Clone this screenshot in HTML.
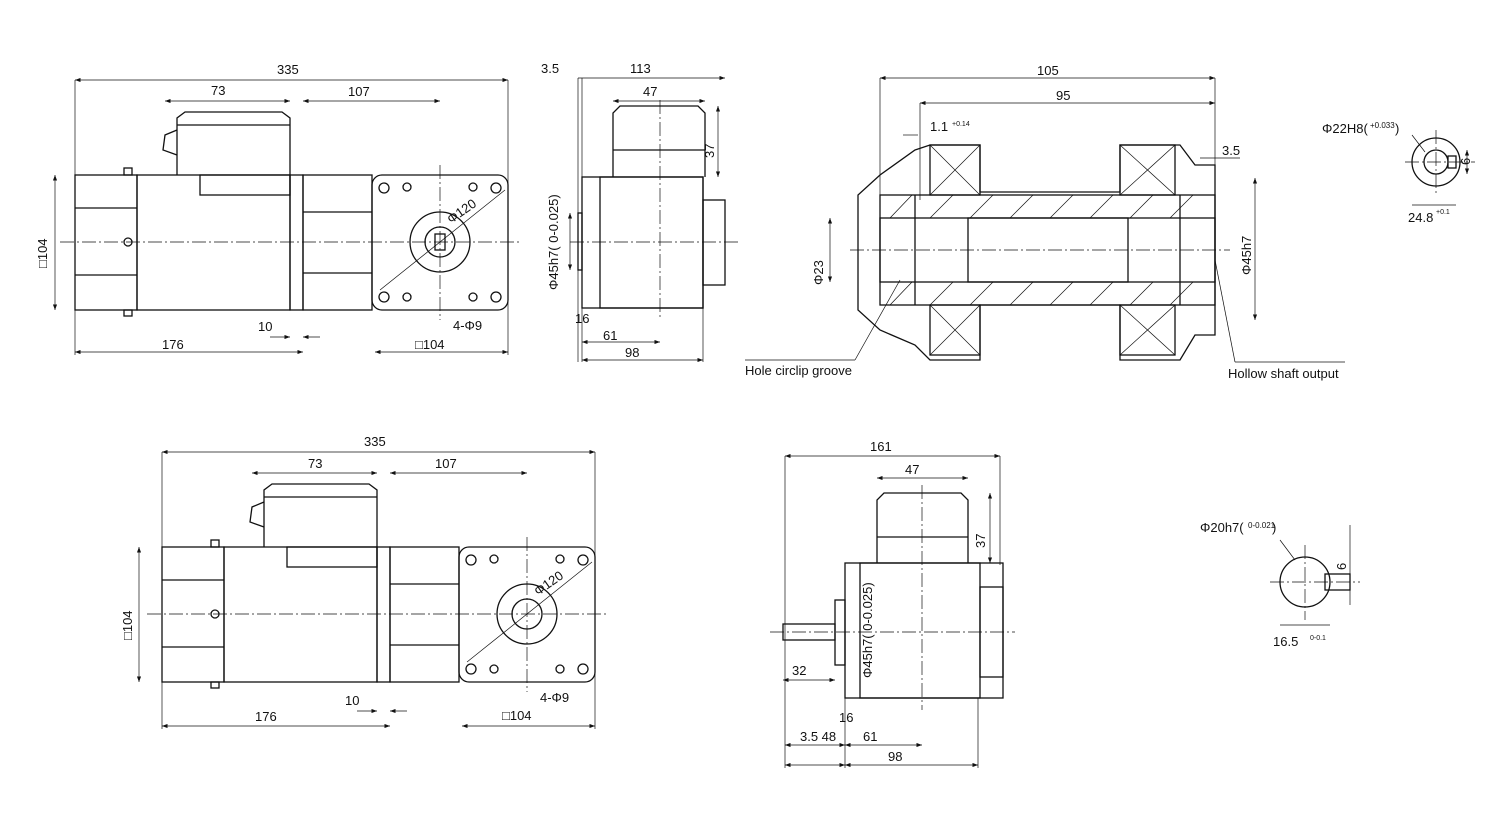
<!DOCTYPE html>
<html><head><meta charset="utf-8"><style>
html,body{margin:0;padding:0;background:#fff}
svg{display:block}
text{font-family:"Liberation Sans",sans-serif;font-size:13px;fill:#111}
.l{stroke:#111;stroke-width:1.3;fill:none}
.t{stroke:#111;stroke-width:.7;fill:none}
.c{stroke:#111;stroke-width:.7;fill:none;stroke-dasharray:14 3 2 3}
</style></head><body>
<svg width="1500" height="815" viewBox="0 0 1500 815" xmlns="http://www.w3.org/2000/svg">
<defs><marker id="a" markerWidth="8" markerHeight="6" refX="8" refY="3" orient="auto-start-reverse"><path d="M0,0L8,3L0,6z" fill="#111"/></marker></defs>

<!-- ===== TOP LEFT VIEW ===== -->
<g id="motor1">
<rect class="l" x="75" y="175" width="62" height="135"/>
<line class="l" x1="75" y1="208" x2="137" y2="208"/><line class="l" x1="75" y1="275" x2="137" y2="275"/>
<rect class="l" x="137" y="175" width="153" height="135"/>
<rect class="l" x="200" y="175" width="90" height="20"/>
<path class="l" d="M177,175 L177,118 L185,112 L282,112 L290,118 L290,175"/>
<line class="l" x1="177" y1="125" x2="290" y2="125"/>
<path class="l" d="M177,130 L165,135 L163,150 L177,155"/>
<rect class="l" x="290" y="175" width="13" height="135"/>
<rect class="l" x="303" y="175" width="69" height="135"/>
<line class="l" x1="303" y1="212" x2="372" y2="212"/><line class="l" x1="303" y1="273" x2="372" y2="273"/>
<rect class="l" x="372" y="175" width="136" height="135" rx="10"/>
<circle class="l" cx="440" cy="242" r="30"/><circle class="l" cx="440" cy="242" r="15"/>
<rect class="l" x="435" y="234" width="10" height="16"/>
<circle class="l" cx="384" cy="188" r="5"/><circle class="l" cx="496" cy="188" r="5"/><circle class="l" cx="384" cy="297" r="5"/><circle class="l" cx="496" cy="297" r="5"/>
<circle class="l" cx="407" cy="187" r="4"/><circle class="l" cx="473" cy="187" r="4"/><circle class="l" cx="407" cy="297" r="4"/><circle class="l" cx="473" cy="297" r="4"/>
<circle class="l" cx="128" cy="242" r="4"/>
<rect class="l" x="124" y="168" width="8" height="7"/><rect class="l" x="124" y="310" width="8" height="6"/>
<line class="c" x1="60" y1="242" x2="520" y2="242"/>
<line class="c" x1="440" y1="165" x2="440" y2="320"/>
<line class="t" x1="380" y1="290" x2="505" y2="190"/>
</g>
<line class="t" x1="75" y1="80" x2="508" y2="80" marker-start="url(#a)" marker-end="url(#a)"/><text x="277" y="74">335</text>
<line class="t" x1="165" y1="101" x2="290" y2="101" marker-start="url(#a)" marker-end="url(#a)"/><text x="211" y="95">73</text>
<line class="t" x1="303" y1="101" x2="440" y2="101" marker-start="url(#a)" marker-end="url(#a)"/><text x="348" y="96">107</text>
<line class="t" x1="75" y1="352" x2="303" y2="352" marker-start="url(#a)" marker-end="url(#a)"/><text x="162" y="349">176</text>
<line class="t" x1="270" y1="337" x2="290" y2="337" marker-end="url(#a)"/><line class="t" x1="320" y1="337" x2="303" y2="337" marker-end="url(#a)"/><text x="258" y="331">10</text>
<line class="t" x1="375" y1="352" x2="508" y2="352" marker-start="url(#a)" marker-end="url(#a)"/><text x="415" y="349">□104</text>
<line class="t" x1="55" y1="175" x2="55" y2="310" marker-start="url(#a)" marker-end="url(#a)"/><text x="47" y="268" transform="rotate(-90 47 268)">□104</text>
<text x="453" y="330">4-Φ9</text><text x="451" y="224" transform="rotate(-35 451 224)">Φ120</text>
<line class="t" x1="75" y1="80" x2="75" y2="355"/><line class="t" x1="508" y1="80" x2="508" y2="355"/>

<!-- ===== TOP SECOND VIEW ===== -->
<rect class="l" x="582" y="177" width="121" height="131"/>
<rect class="l" x="600" y="177" width="103" height="131"/>
<path class="l" d="M613,177 L613,113 L620,106 L698,106 L705,113 L705,177"/>
<line class="l" x1="613" y1="150" x2="705" y2="150"/>
<rect class="l" x="703" y="200" width="22" height="85"/>
<rect class="l" x="578" y="213" width="4" height="57"/>
<line class="c" x1="570" y1="242" x2="740" y2="242"/><line class="c" x1="660" y1="100" x2="660" y2="320"/>
<line class="t" x1="578" y1="78" x2="725" y2="78" marker-end="url(#a)"/><text x="541" y="73">3.5</text><text x="630" y="73">113</text>
<line class="t" x1="613" y1="101" x2="705" y2="101" marker-start="url(#a)" marker-end="url(#a)"/><text x="643" y="96">47</text>
<line class="t" x1="718" y1="106" x2="718" y2="177" marker-start="url(#a)" marker-end="url(#a)"/><text x="714" y="158" transform="rotate(-90 714 158)">37</text>
<line class="t" x1="570" y1="213" x2="570" y2="270" marker-start="url(#a)" marker-end="url(#a)"/><text x="558" y="290" transform="rotate(-90 558 290)">Φ45h7( 0-0.025)</text>
<line class="t" x1="582" y1="342" x2="660" y2="342" marker-start="url(#a)" marker-end="url(#a)"/><text x="603" y="340">61</text><text x="575" y="323">16</text>
<line class="t" x1="582" y1="360" x2="703" y2="360" marker-start="url(#a)" marker-end="url(#a)"/><text x="625" y="357">98</text>
<line class="t" x1="578" y1="78" x2="578" y2="362"/><line class="t" x1="582" y1="78" x2="582" y2="362"/><line class="t" x1="703" y1="290" x2="703" y2="362"/>

<!-- ===== SECTION VIEW ===== -->
<path class="l" d="M915,150 L930,145 L980,145 L980,192 L1120,192 L1120,145 L1180,145 L1195,165 L1215,165 L1215,335 L1195,335 L1180,360 L1120,360 L1120,305 L980,305 L980,360 L930,360 L915,345 L880,330 L858,310 L858,195 L880,175 Z"/>
<rect class="l" x="930" y="145" width="50" height="50"/><path class="t" d="M930,145L980,195M980,145L930,195"/>
<rect class="l" x="930" y="305" width="50" height="50"/><path class="t" d="M930,305L980,355M980,305L930,355"/>
<rect class="l" x="1120" y="145" width="55" height="50"/><path class="t" d="M1120,145L1175,195M1175,145L1120,195"/>
<rect class="l" x="1120" y="305" width="55" height="50"/><path class="t" d="M1120,305L1175,355M1175,305L1120,355"/>
<rect class="l" x="880" y="195" width="335" height="110"/>
<rect class="l" x="880" y="218" width="335" height="64"/>
<rect class="l" x="968" y="218" width="160" height="64"/>
<line class="l" x1="915" y1="195" x2="915" y2="305"/><line class="l" x1="1180" y1="195" x2="1180" y2="305"/>
<g class="t"><path d="M890,218L912,195M930,218L953,195M970,218L993,195M1010,218L1033,195M1050,218L1073,195M1090,218L1113,195M1130,218L1153,195M1170,218L1193,195"/>
<path d="M890,305L912,282M930,305L953,282M970,305L993,282M1010,305L1033,282M1050,305L1073,282M1090,305L1113,282M1130,305L1153,282M1170,305L1193,282"/></g>
<line class="c" x1="850" y1="250" x2="1230" y2="250"/>
<line class="t" x1="880" y1="78" x2="1215" y2="78" marker-start="url(#a)" marker-end="url(#a)"/><text x="1037" y="75">105</text>
<line class="t" x1="920" y1="103" x2="1215" y2="103" marker-start="url(#a)" marker-end="url(#a)"/><text x="1056" y="100">95</text>
<line class="t" x1="903" y1="135" x2="918" y2="135"/><text x="930" y="131">1.1</text><text x="952" y="126" style="font-size:7px">+0.14</text>
<line class="t" x1="1200" y1="158" x2="1240" y2="158"/><text x="1222" y="155">3.5</text>
<line class="t" x1="1255" y1="178" x2="1255" y2="320" marker-start="url(#a)" marker-end="url(#a)"/><text x="1251" y="275" transform="rotate(-90 1251 275)">Φ45h7</text>
<line class="t" x1="830" y1="218" x2="830" y2="282" marker-start="url(#a)" marker-end="url(#a)"/><text x="823" y="285" transform="rotate(-90 823 285)">Φ23</text>
<line class="t" x1="880" y1="78" x2="880" y2="200"/><line class="t" x1="1215" y1="78" x2="1215" y2="170"/><line class="t" x1="920" y1="103" x2="920" y2="200"/>
<line class="t" x1="855" y1="360" x2="900" y2="280"/><line class="t" x1="745" y1="360" x2="855" y2="360"/><text x="745" y="375">Hole circlip groove</text>
<line class="t" x1="1235" y1="362" x2="1215" y2="260"/><line class="t" x1="1235" y1="362" x2="1345" y2="362"/><text x="1228" y="378">Hollow shaft output</text>
<circle class="l" cx="1436" cy="162" r="24"/><circle class="l" cx="1436" cy="162" r="12"/><rect class="l" x="1448" y="156" width="8" height="12"/>
<line class="c" x1="1405" y1="162" x2="1475" y2="162"/><line class="c" x1="1436" y1="130" x2="1436" y2="195"/>
<text x="1322" y="133">Φ22H8(</text><text x="1370" y="128" style="font-size:8px">+0.033</text><text x="1395" y="133">)</text>
<line class="t" x1="1412" y1="135" x2="1425" y2="152"/>
<line class="t" x1="1467" y1="150" x2="1467" y2="174" marker-start="url(#a)" marker-end="url(#a)"/><text x="1470" y="165" transform="rotate(-90 1470 165)">6</text>
<line class="t" x1="1412" y1="205" x2="1456" y2="205"/><text x="1408" y="222">24.8</text><text x="1436" y="214" style="font-size:7px">+0.1</text>

<!-- ===== BOTTOM LEFT VIEW ===== -->
<g transform="translate(87,372)">
<rect class="l" x="75" y="175" width="62" height="135"/>
<line class="l" x1="75" y1="208" x2="137" y2="208"/><line class="l" x1="75" y1="275" x2="137" y2="275"/>
<rect class="l" x="137" y="175" width="153" height="135"/>
<rect class="l" x="200" y="175" width="90" height="20"/>
<path class="l" d="M177,175 L177,118 L185,112 L282,112 L290,118 L290,175"/>
<line class="l" x1="177" y1="125" x2="290" y2="125"/>
<path class="l" d="M177,130 L165,135 L163,150 L177,155"/>
<rect class="l" x="290" y="175" width="13" height="135"/>
<rect class="l" x="303" y="175" width="69" height="135"/>
<line class="l" x1="303" y1="212" x2="372" y2="212"/><line class="l" x1="303" y1="273" x2="372" y2="273"/>
<rect class="l" x="372" y="175" width="136" height="135" rx="10"/>
<circle class="l" cx="440" cy="242" r="30"/><circle class="l" cx="440" cy="242" r="15"/>
<circle class="l" cx="384" cy="188" r="5"/><circle class="l" cx="496" cy="188" r="5"/><circle class="l" cx="384" cy="297" r="5"/><circle class="l" cx="496" cy="297" r="5"/>
<circle class="l" cx="407" cy="187" r="4"/><circle class="l" cx="473" cy="187" r="4"/><circle class="l" cx="407" cy="297" r="4"/><circle class="l" cx="473" cy="297" r="4"/>
<circle class="l" cx="128" cy="242" r="4"/>
<rect class="l" x="124" y="168" width="8" height="7"/><rect class="l" x="124" y="310" width="8" height="6"/>
<line class="c" x1="60" y1="242" x2="520" y2="242"/><line class="c" x1="440" y1="165" x2="440" y2="320"/>
<line class="t" x1="380" y1="290" x2="505" y2="190"/>
<line class="t" x1="75" y1="80" x2="508" y2="80" marker-start="url(#a)" marker-end="url(#a)"/><text x="277" y="74">335</text>
<line class="t" x1="165" y1="101" x2="290" y2="101" marker-start="url(#a)" marker-end="url(#a)"/><text x="221" y="96">73</text>
<line class="t" x1="303" y1="101" x2="440" y2="101" marker-start="url(#a)" marker-end="url(#a)"/><text x="348" y="96">107</text>
<line class="t" x1="75" y1="354" x2="303" y2="354" marker-start="url(#a)" marker-end="url(#a)"/><text x="168" y="349">176</text>
<line class="t" x1="270" y1="339" x2="290" y2="339" marker-end="url(#a)"/><line class="t" x1="320" y1="339" x2="303" y2="339" marker-end="url(#a)"/><text x="258" y="333">10</text>
<line class="t" x1="375" y1="354" x2="508" y2="354" marker-start="url(#a)" marker-end="url(#a)"/><text x="415" y="348">□104</text>
<line class="t" x1="52" y1="175" x2="52" y2="310" marker-start="url(#a)" marker-end="url(#a)"/><text x="45" y="268" transform="rotate(-90 45 268)">□104</text>
<text x="453" y="330">4-Φ9</text><text x="451" y="224" transform="rotate(-35 451 224)">Φ120</text>
<line class="t" x1="75" y1="80" x2="75" y2="357"/><line class="t" x1="508" y1="80" x2="508" y2="357"/>
</g>

<!-- ===== BOTTOM MIDDLE VIEW ===== -->
<rect class="l" x="845" y="563" width="158" height="135"/>
<rect class="l" x="860" y="563" width="120" height="135"/>
<path class="l" d="M877,563 L877,500 L884,493 L961,493 L968,500 L968,563"/>
<line class="l" x1="877" y1="537" x2="968" y2="537"/>
<rect class="l" x="980" y="587" width="23" height="90"/>
<rect class="l" x="835" y="600" width="10" height="65"/>
<rect class="l" x="783" y="624" width="52" height="16"/>
<line class="c" x1="770" y1="632" x2="1015" y2="632"/><line class="c" x1="922" y1="485" x2="922" y2="710"/>
<line class="t" x1="785" y1="456" x2="1000" y2="456" marker-start="url(#a)" marker-end="url(#a)"/><text x="870" y="451">161</text>
<line class="t" x1="877" y1="478" x2="968" y2="478" marker-start="url(#a)" marker-end="url(#a)"/><text x="905" y="474">47</text>
<line class="t" x1="990" y1="493" x2="990" y2="563" marker-start="url(#a)" marker-end="url(#a)"/><text x="985" y="548" transform="rotate(-90 985 548)">37</text>
<line class="t" x1="783" y1="680" x2="835" y2="680" marker-start="url(#a)" marker-end="url(#a)"/><text x="792" y="675">32</text>
<text x="839" y="722">16</text>
<line class="t" x1="845" y1="745" x2="922" y2="745" marker-start="url(#a)" marker-end="url(#a)"/><text x="863" y="741">61</text>
<line class="t" x1="785" y1="745" x2="845" y2="745" marker-start="url(#a)" marker-end="url(#a)"/><text x="800" y="741">3.5 48</text>
<line class="t" x1="785" y1="765" x2="845" y2="765" marker-start="url(#a)" marker-end="url(#a)"/>
<line class="t" x1="845" y1="765" x2="978" y2="765" marker-start="url(#a)" marker-end="url(#a)"/><text x="888" y="761">98</text>
<text x="872" y="678" transform="rotate(-90 872 678)">Φ45h7( 0-0.025)</text>
<line class="t" x1="785" y1="456" x2="785" y2="768"/><line class="t" x1="845" y1="698" x2="845" y2="768"/><line class="t" x1="1000" y1="456" x2="1000" y2="565"/><line class="t" x1="978" y1="698" x2="978" y2="768"/>
<circle class="l" cx="1305" cy="582" r="25"/><rect class="l" x="1325" y="574" width="25" height="16"/>
<line class="c" x1="1270" y1="582" x2="1360" y2="582"/><line class="c" x1="1305" y1="545" x2="1305" y2="620"/>
<text x="1200" y="532">Φ20h7(</text><text x="1248" y="528" style="font-size:8px">0-0.021</text><text x="1272" y="532">)</text>
<line class="t" x1="1280" y1="540" x2="1295" y2="560"/>
<line class="t" x1="1350" y1="525" x2="1350" y2="605"/><text x="1346" y="570" transform="rotate(-90 1346 570)">6</text>
<line class="t" x1="1280" y1="625" x2="1330" y2="625"/><text x="1273" y="646">16.5</text><text x="1310" y="640" style="font-size:7px">0-0.1</text>
</svg>
</body></html>
